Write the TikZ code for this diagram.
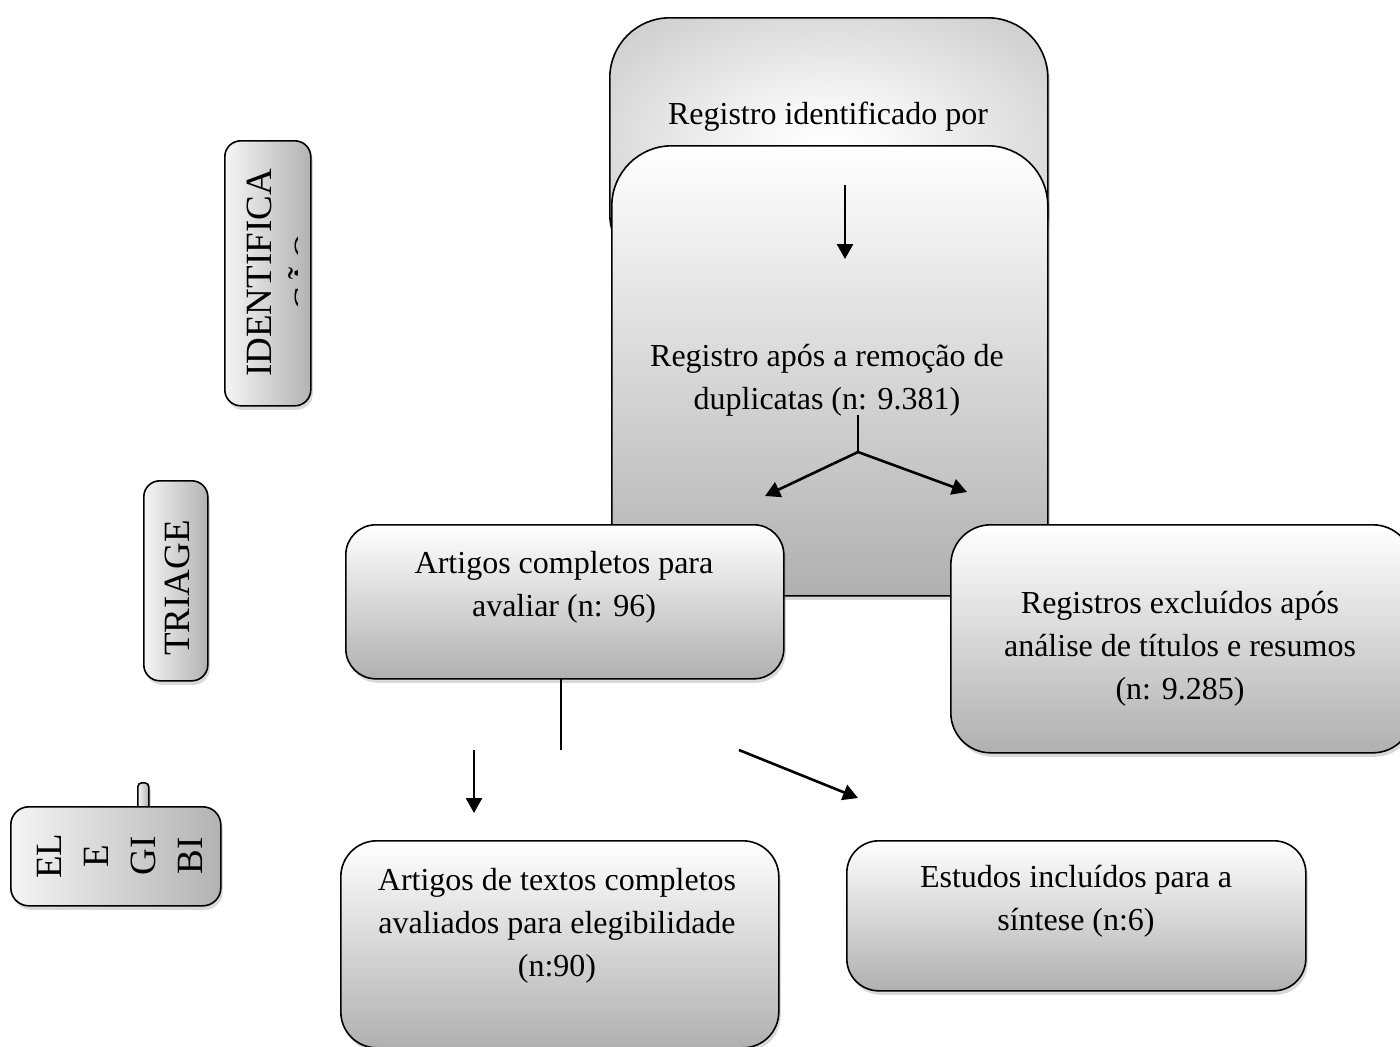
\documentclass[tikz,border=0pt]{standalone}
\usepackage{fontspec}
\setmainfont{Liberation Serif}
\usetikzlibrary{shadows,arrows.meta}
\pgfdeclareradialshading{boxglow}{\pgfpoint{0bp}{0bp}}{color(0bp)=(white); color(8bp)=(white!97!black); color(34bp)=(black!20); color(50bp)=(black!27); color(72bp)=(black!30)}
\begin{document}
\begin{tikzpicture}[x=0.5pt,y=-0.5pt,
  rbox/.style={draw=black, line width=0.8pt, rounded corners=#1, inner sep=0pt, anchor=north west,
    drop shadow={opacity=0.3, shadow xshift=1pt, shadow yshift=-2pt}},
  rbox/.default=15pt,
  vgrad/.style={top color=white, bottom color=black!31},
  hgrad/.style={left color=white!96!black, right color=black!30},
  txt/.style={align=center, font=\fontsize{16}{21.5}\selectfont, inner sep=0pt},
  stxt/.style={rotate=90, align=center, font=\fontsize{18.5}{23.5}\selectfont, inner sep=0pt},
  arr/.style={line width=1.3pt, -{Triangle[length=7.5pt,width=8pt]}},
  ln/.style={line width=1.3pt}]
\useasboundingbox (0,0) rectangle (1400,1046);

% side labels
\node[rbox=8pt, hgrad, minimum width=43pt, minimum height=132.5pt] (idbox) at (224,140) {};
\node[stxt] (idt) at (259,273) {IDENTIFICA};
\begin{scope}
  \clip (285,150) rectangle (297,400);
  \node[stxt, anchor=base] (idt2) at (319,272) {ÇÃO};
\end{scope}
\node[rbox=8pt, hgrad, minimum width=32pt, minimum height=100pt] (trbox) at (143,480) {};
\node[stxt] (trt) at (177.5,588) {TRIAGE};
\node[rbox=2pt, hgrad, minimum width=5.5pt, minimum height=16pt] (tab) at (137,782) {};
\node[rbox=9pt, hgrad, minimum width=105pt, minimum height=49.5pt] (elbox) at (10,806) {};
\node[stxt] (elt) at (120,856) {EL\\E\\GI\\BI};

% top boxes
\node[rbox=30pt, shading=boxglow, minimum width=219pt, minimum height=128pt] (regid) at (609,17) {};
\node[txt] (regidt) at (828,117) {Registro identificado por};
\node[rbox=30pt, vgrad, minimum width=218pt, minimum height=225pt] (regdup) at (611,145) {};
\node[txt] (regdupt) at (827,380) {Registro após a remoção de\\duplicatas (n: 9.381)};

\coordinate (a0) at (845,185);
\coordinate (a1) at (845,259);
\draw[arr] (a0) -- (a1);
\coordinate (b0) at (858,415);
\coordinate (b1) at (858,452);
\coordinate (bl) at (765,496);
\coordinate (br) at (967,492);
\draw[ln] (b0) -- (b1);
\draw[arr] (b1) -- (bl);
\draw[arr] (b1) -- (br);

% middle boxes
\node[rbox=15pt, vgrad, minimum width=219pt, minimum height=77pt] (artc) at (345,524) {};
\node[txt] (artct) at (564,587) {Artigos completos para\\avaliar (n: 96)};
\node[rbox=20pt, vgrad, minimum width=231pt, minimum height=114pt] (regex) at (950,524) {};
\node[txt] (regext) at (1180,649) {Registros excluídos após\\análise de títulos e resumos\\(n: 9.285)};

\coordinate (c0) at (561,678);
\coordinate (c1) at (561,750);
\draw[ln] (c0) -- (c1);
\coordinate (d0) at (474,750);
\coordinate (d1) at (474,813);
\draw[arr] (d0) -- (d1);
\coordinate (e0) at (739,750);
\coordinate (e1) at (858,798);
\draw[arr] (e0) -- (e1);

% bottom boxes
\node[rbox=18pt, vgrad, minimum width=219pt, minimum height=103.5pt] (artt) at (340,840) {};
\node[txt] (arttt) at (557,926) {Artigos de textos completos\\avaliados para elegibilidade\\(n:90)};
\node[rbox=16pt, vgrad, minimum width=229.5pt, minimum height=75pt] (estin) at (846,840) {};
\node[txt] (estint) at (1076,901) {Estudos incluídos para a\\síntese (n:6)};
\end{tikzpicture}
\end{document}
